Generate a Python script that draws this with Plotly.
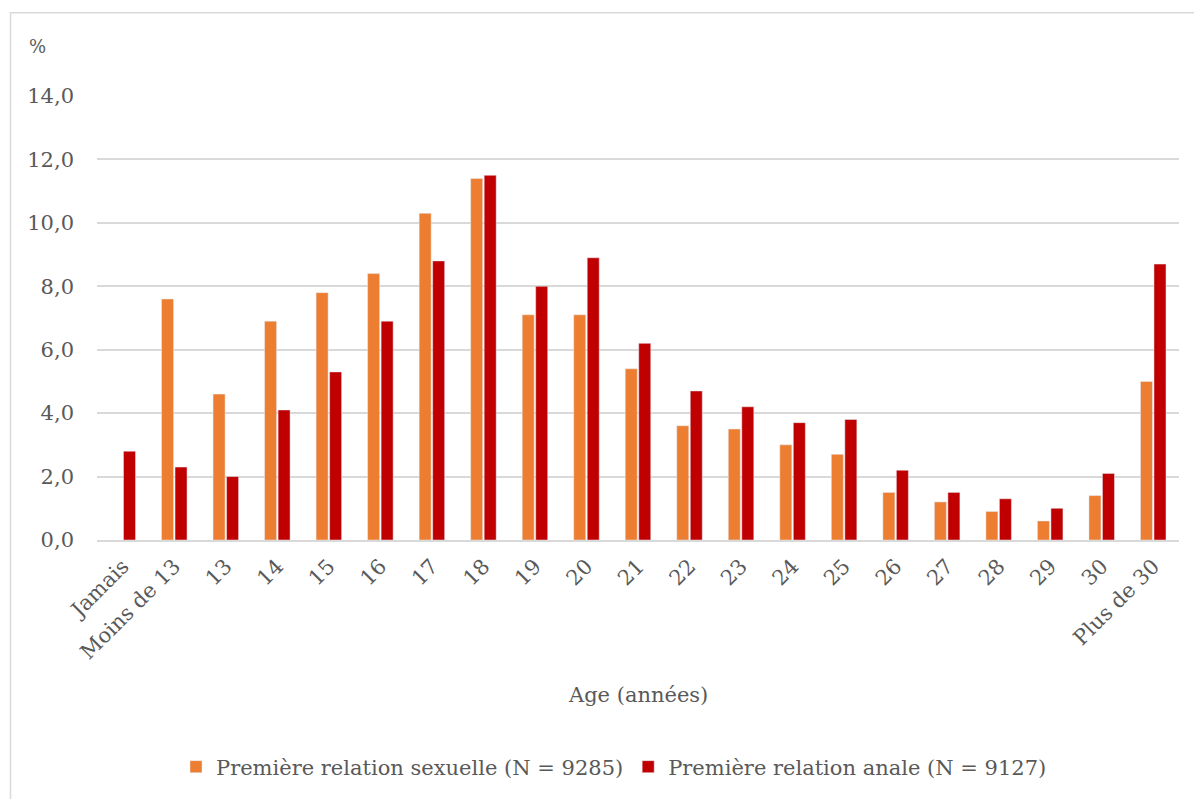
import plotly.graph_objects as go

# Age at first intercourse, share of respondents (%)
ages = ["Jamais", "Moins de 13", "13", "14", "15", "16", "17", "18", "19", "20",
        "21", "22", "23", "24", "25", "26", "27", "28", "29", "30", "Plus de 30"]
sexuelle = [None, 7.6, 4.6, 6.9, 7.8, 8.4, 10.3, 11.4, 7.1, 7.1,
            5.4, 3.6, 3.5, 3.0, 2.7, 1.5, 1.2, 0.9, 0.6, 1.4, 5.0]
anale = [2.8, 2.3, 2.0, 4.1, 5.3, 6.9, 8.8, 11.5, 8.0, 8.9,
         6.2, 4.7, 4.2, 3.7, 3.8, 2.2, 1.5, 1.3, 1.0, 2.1, 8.7]
y_ticks = [0, 2, 4, 6, 8, 10, 12, 14]
y_tick_text = ["0,0", "2,0", "4,0", "6,0", "8,0", "10,0", "12,0", "14,0"]

FONT = "DejaVu Serif"
GREY = "#595959"
FS = 21

W, H = 1194, 799
L, R, T, B = 97, 15, 96, 257
pw, ph = W - L - R, H - T - B


def px_x(px):
    return (px - L) / pw


def px_y(py):
    return (H - B - py) / ph


fig = go.Figure()
fig.add_trace(go.Bar(x=ages, y=sexuelle, name="Première relation sexuelle (N = 9285)",
                     marker_color="#ED7D31"))
fig.add_trace(go.Bar(x=ages, y=anale, name="Première relation anale (N = 9127)",
                     marker_color="#C00000"))

fig.update_layout(
    width=W, height=H,
    margin=dict(l=L, r=R, t=T, b=B),
    paper_bgcolor="white", plot_bgcolor="white",
    barmode="group", bargap=0.476, bargroupgap=0.11,
    font=dict(family=FONT, size=FS, color=GREY),
    showlegend=True,
    legend=dict(orientation="h", x=px_x(614), xanchor="center", y=px_y(770), yanchor="middle",
                font=dict(family=FONT, size=FS, color=GREY), itemwidth=30,
                traceorder="normal"),
    xaxis=dict(showgrid=False, showline=True, linecolor="#D9D9D9", linewidth=1.5,
               tickangle=-45, ticks="", ticklabelstandoff=4,
               tickfont=dict(family=FONT, size=FS, color=GREY)),
    yaxis=dict(range=[0, 14], tickvals=y_ticks, ticktext=y_tick_text,
               showgrid=True, gridcolor="#D9D9D9", gridwidth=1.5,
               zeroline=False, showline=False, ticks="", ticklabelstandoff=22,
               tickfont=dict(family=FONT, size=FS, color=GREY)),
    annotations=[
        dict(text="Age (années)", x=px_x(638), y=px_y(698), xref="paper", yref="paper",
             showarrow=False, xanchor="center", yanchor="middle",
             font=dict(family=FONT, size=FS, color=GREY)),
        dict(text="%", x=px_x(37), y=px_y(46), xref="paper", yref="paper",
             showarrow=False, xanchor="center", yanchor="middle",
             font=dict(family=FONT, size=18, color=GREY)),
    ],
    shapes=[
        dict(type="rect", xref="paper", yref="paper",
             x0=px_x(10.5), x1=px_x(1210), y0=px_y(12.5), y1=px_y(820),
             line=dict(color="#D9D9D9", width=1.5), fillcolor="rgba(0,0,0,0)", layer="below"),
    ],
)

fig.write_html("out.html")
